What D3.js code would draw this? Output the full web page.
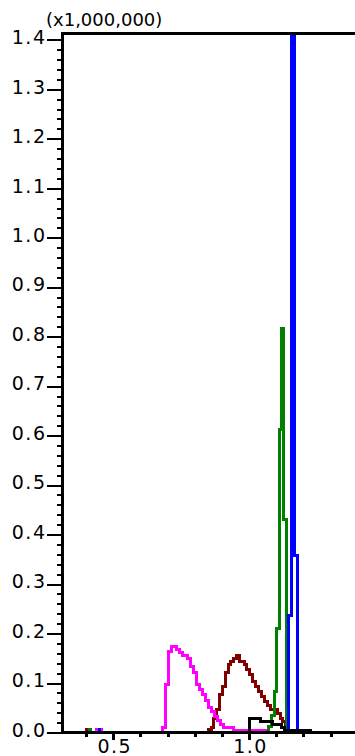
<!DOCTYPE html>
<html>
<head>
<meta charset="utf-8">
<script src="https://cdn.jsdelivr.net/npm/d3@7"></script>
<style>
  html, body { margin: 0; padding: 0; background: #fff; }
  svg { display: block; }
  text { font-family: "DejaVu Sans", sans-serif; fill: #000; }
</style>
</head>
<body>
<div id="chart"></div>
<script>
// ---------- data (x in minutes, intensity in x1,000,000) ----------
const yTickValues = [0.0, 0.1, 0.2, 0.3, 0.4, 0.5, 0.6, 0.7, 0.8, 0.9, 1.0, 1.1, 1.2, 1.3, 1.4];
const xTickValues = [0.4, 0.5, 0.6, 0.7, 0.8, 0.9, 1.0, 1.1, 1.2, 1.3, 1.4];
const xLabelTicks = [0.5, 1.0];
const scaleLabel = "(x1,000,000)";

const maroonX = [0.300, 0.4013, 0.4050, 0.8505, 0.8616, 0.8708, 0.8800, 0.8910, 0.9021, 0.9131, 0.9242, 0.9334, 0.9426, 0.9536, 0.9647, 0.9831, 0.9923, 1.0033, 1.0144, 1.0236, 1.0346, 1.0457, 1.0567, 1.0677, 1.0788, 1.1064, 1.1156, 1.1248, 1.1340];
const maroonY = [0.000, 0.006, 0.000, 0.006, 0.010, 0.028, 0.046, 0.077, 0.093, 0.121, 0.137, 0.143, 0.150, 0.156, 0.143, 0.137, 0.127, 0.117, 0.103, 0.093, 0.083, 0.073, 0.063, 0.055, 0.046, 0.038, 0.028, 0.022, 0.000];

const magentaX = [0.300, 0.4381, 0.4566, 0.6701, 0.6811, 0.6922, 0.7032, 0.7143, 0.7327, 0.7437, 0.7548, 0.7750, 0.7861, 0.7953, 0.8063, 0.8174, 0.8284, 0.8395, 0.8505, 0.8616, 0.8726, 0.8855, 0.8965, 0.9076, 0.9444, 1.0659];
const magentaY = [0.000, 0.006, 0.000, 0.000, 0.010, 0.097, 0.164, 0.174, 0.168, 0.162, 0.156, 0.150, 0.133, 0.121, 0.097, 0.087, 0.077, 0.065, 0.051, 0.042, 0.032, 0.024, 0.016, 0.010, 0.005, 0.000];

const greenX = [0.300, 0.4124, 0.4161, 1.0604, 1.0714, 1.0825, 1.0935, 1.1027, 1.1119, 1.1193, 1.1285, 1.1377];
const greenY = [0.000, 0.006, 0.000, 0.000, 0.012, 0.035, 0.082, 0.210, 0.612, 0.817, 0.431, 0.000];

const blueX = [0.300, 0.4492, 0.4507, 1.1340, 1.1451, 1.1561, 1.1672, 1.1782];
const blueY = [0.000, 0.006, 0.000, 0.000, 0.236, 1.600, 0.357, 0.000];

const blackX = [0.300, 1.0015, 1.0438, 1.0880, 1.1211, 1.1321, 1.2244];
const blackY = [0.000, 0.028, 0.022, 0.016, 0.011, 0.005, 0.000];

const seriesList = [
  { color: "#800000", xs: maroonX, ys: maroonY },
  { color: "#ff00ff", xs: magentaX, ys: magentaY },
  { color: "#008000", xs: greenX, ys: greenY },
  { color: "#0000ff", xs: blueX, ys: blueY },
  { color: "#000000", xs: blackX, ys: blackY }
];

// ---------- layout ----------
const W = 355, H = 756;
const plotLeft = 62.5, plotTop = 33.5, axisY = 732.5;
const labelFont = 19;

const x = d3.scaleLinear().domain([0.313, 1.45]).range([plotLeft, 371.3]);
const y = d3.scaleLinear().domain([0, 1.4]).range([axisY, 39.78]);

const svg = d3.select("#chart").append("svg")
  .attr("width", W).attr("height", H);

svg.append("defs").append("clipPath").attr("id", "plotclip")
  .append("rect").attr("x", plotLeft).attr("y", plotTop).attr("width", W - plotLeft).attr("height", axisY - plotTop + 2);

// ---------- curves ----------
const line = d3.line()
  .x(d => x(d[0]))
  .y(d => y(d[1]))
  .curve(d3.curveStepAfter);

const plot = svg.append("g").attr("clip-path", "url(#plotclip)");
seriesList.forEach(s => {
  const pts = s.xs.map((v, i) => [v, s.ys[i]]);
  plot.append("path")
    .attr("d", line(pts))
    .attr("fill", "none")
    .attr("stroke", s.color)
    .attr("stroke-width", 3)
    .attr("shape-rendering", "crispEdges");
});

// ---------- y axis ----------
const yMinor = d3.range(0, 1.4001, 0.02).filter(v => Math.abs(Math.round(v * 10) - v * 10) > 1e-6);
const yMinorAxis = svg.append("g").attr("transform", `translate(${plotLeft},0)`)
  .call(d3.axisLeft(y).tickValues(yMinor).tickSize(6).tickFormat(""));
const yAxis = svg.append("g").attr("transform", `translate(${plotLeft},0)`)
  .call(d3.axisLeft(y).tickValues(yTickValues).tickSize(16).tickPadding(0).tickFormat(d3.format(".1f")));
[yMinorAxis, yAxis].forEach(g => {
  g.select(".domain").remove();
  g.selectAll(".tick line").attr("stroke", "#000").attr("stroke-width", 2).attr("shape-rendering", "crispEdges");
});
yAxis.selectAll(".tick text")
  .attr("font-size", labelFont).attr("dy", "0.2em")
  .style("letter-spacing", "1.5px")
  .style("font-family", "DejaVu Sans, sans-serif");

// ---------- x axis ----------
const xAxis = svg.append("g").attr("transform", `translate(0,${axisY})`)
  .call(d3.axisBottom(x).tickValues(xTickValues).tickSize(4).tickFormat(""));
xAxis.select(".domain").remove();
xAxis.selectAll(".tick line").attr("stroke", "#000").attr("stroke-width", 3).attr("shape-rendering", "crispEdges");

const xMajor = svg.append("g").attr("transform", `translate(0,${axisY})`)
  .call(d3.axisBottom(x).tickValues(xLabelTicks).tickSize(7).tickPadding(0).tickFormat(d3.format(".1f")));
xMajor.select(".domain").remove();
xMajor.selectAll(".tick line").attr("stroke", "#000").attr("stroke-width", 3).attr("shape-rendering", "crispEdges");
xMajor.selectAll(".tick text").attr("font-size", labelFont)
  .attr("dx", "1px")
  .style("letter-spacing", "1.5px")
  .style("font-family", "DejaVu Sans, sans-serif");

// axis lines and top border
svg.append("line").attr("x1", plotLeft).attr("x2", plotLeft).attr("y1", plotTop - 1.5).attr("y2", axisY + 1.5)
  .attr("stroke", "#000").attr("stroke-width", 3).attr("shape-rendering", "crispEdges");
svg.append("line").attr("x1", plotLeft - 1.5).attr("x2", W).attr("y1", axisY).attr("y2", axisY)
  .attr("stroke", "#000").attr("stroke-width", 3).attr("shape-rendering", "crispEdges");
svg.append("line").attr("x1", plotLeft - 1.5).attr("x2", W).attr("y1", plotTop).attr("y2", plotTop)
  .attr("stroke", "#000").attr("stroke-width", 3).attr("shape-rendering", "crispEdges");

// scale label
svg.append("text").attr("x", 46).attr("y", 25.5).attr("font-size", 18).text(scaleLabel);
</script>
</body>
</html>
